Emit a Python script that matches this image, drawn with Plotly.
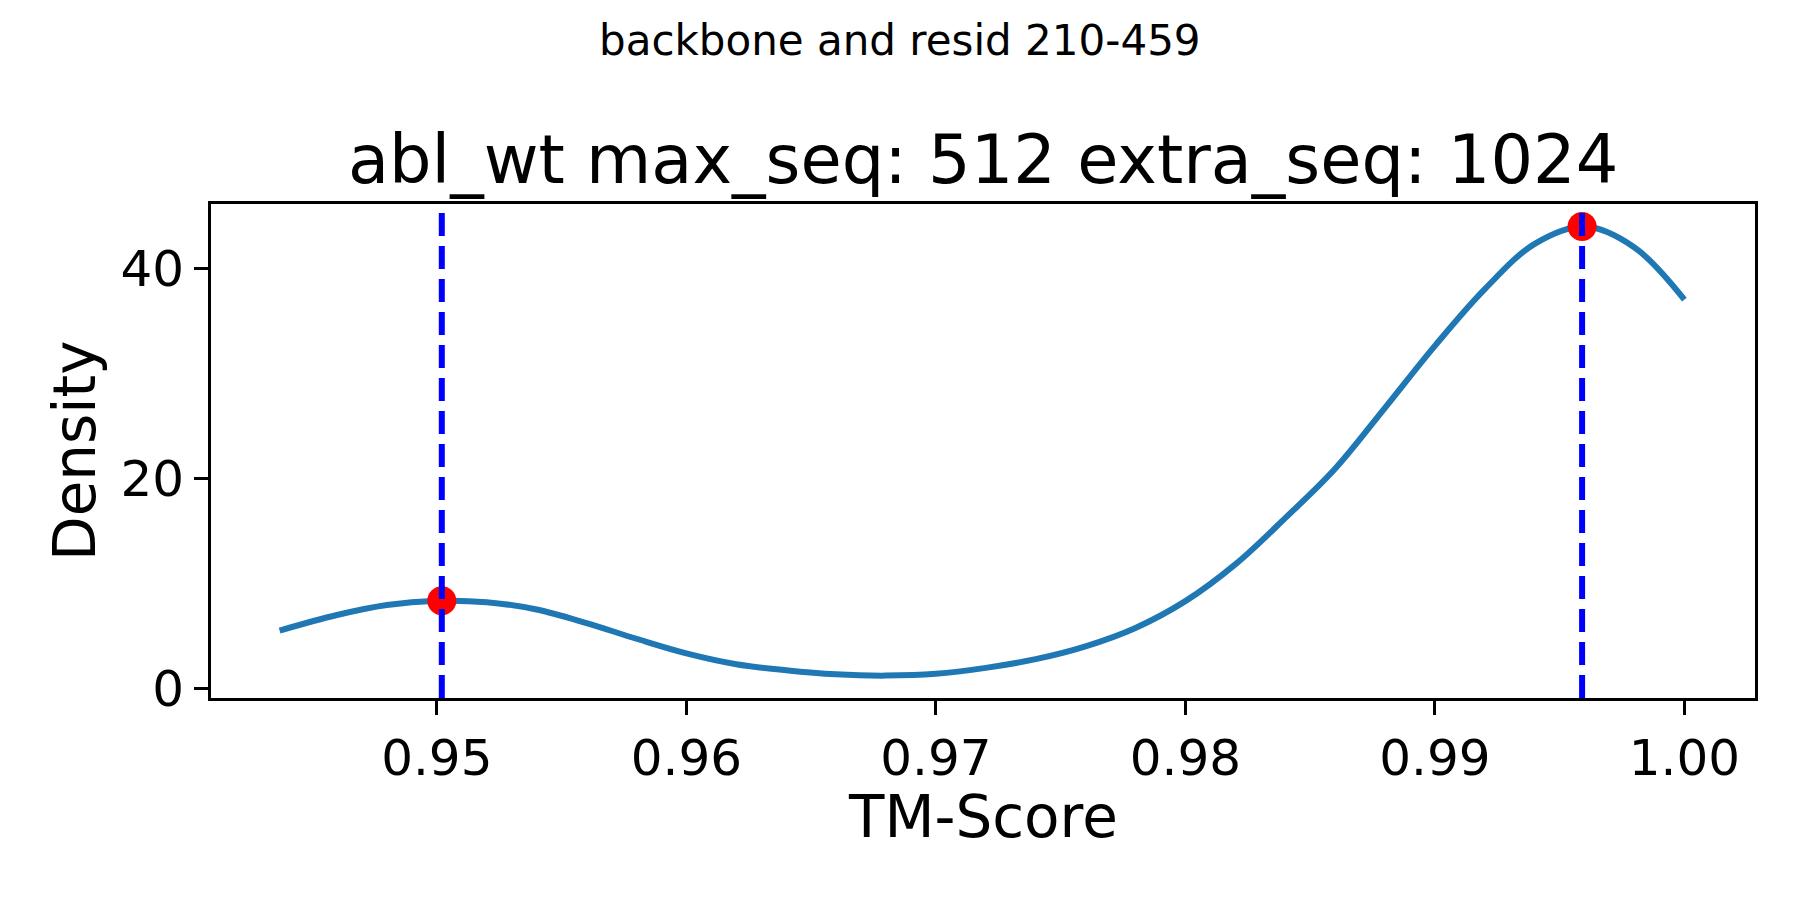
import plotly.graph_objects as go

# ---- data ----
tm_score = [0.9437, 0.9460, 0.9480, 0.9500, 0.9520, 0.9540, 0.9560, 0.9580,
            0.9600, 0.9620, 0.9640, 0.9660, 0.9680, 0.9700, 0.9720, 0.9740,
            0.9760, 0.9780, 0.9800, 0.9820, 0.9840, 0.9860, 0.9880, 0.9900,
            0.9920, 0.9940, 0.9960, 0.9980, 1.0000]
density = [5.5, 6.98, 7.93, 8.33, 8.2, 7.5, 6.21, 4.72,
           3.33, 2.30, 1.72, 1.33, 1.21, 1.38, 1.95, 2.78,
           4.0, 5.75, 8.3, 11.8, 16.2, 20.9, 26.7, 32.6,
           38.0, 42.3, 43.95, 41.96, 37.0]
peak_x = [0.9502, 0.9959]
peak_y = [8.34, 43.96]

x_ticks = [0.95, 0.96, 0.97, 0.98, 0.99, 1.00]
x_tick_labels = ["0.95", "0.96", "0.97", "0.98", "0.99", "1.00"]
y_ticks = [0, 20, 40]
y_tick_labels = ["0", "20", "40"]

suptitle = "backbone and resid 210-459"
title = "abl_wt max_seq: 512 extra_seq: 1024"
x_label = "TM-Score"
y_label = "Density"

FONT = "DejaVu Sans"

fig = go.Figure()

fig.add_trace(go.Scatter(
    x=tm_score, y=density, mode="lines",
    line=dict(color="#1f77b4", width=6, shape="spline", smoothing=1.0),
    showlegend=False, hoverinfo="skip",
))

for px in peak_x:
    fig.add_vline(x=px, line=dict(color="#0000ff", width=6, dash="23px,10px"))

fig.add_trace(go.Scatter(
    x=peak_x, y=peak_y, mode="markers",
    marker=dict(color="#ff0000", size=29, line=dict(width=0)),
    showlegend=False,
))

axis_common = dict(
    showgrid=False, zeroline=False, showline=True, linecolor="black",
    linewidth=3, mirror=True, ticks="outside", ticklen=14, tickwidth=3,
    tickcolor="black", tickfont=dict(family=FONT, size=50, color="black"),
)

fig.update_xaxes(range=[0.94095, 1.00283], tickvals=x_ticks,
                 ticktext=x_tick_labels, **axis_common)
fig.update_yaxes(range=[-0.92, 46.1], tickvals=y_ticks,
                 ticktext=y_tick_labels, **axis_common)

L, R, T, B = 211, 45, 204, 202
W, H = 1800, 900
ph = H - T - B
pw = W - L - R

def py(ypix):
    return (H - B - ypix) / ph

def pxx(xpix):
    return (xpix - L) / pw

annotations = [
    dict(text=suptitle, x=pxx(900), y=py(40), xref="paper", yref="paper",
         xanchor="center", yanchor="middle", showarrow=False,
         font=dict(family=FONT, size=42, color="black")),
    dict(text=title, x=0.5, y=py(160), xref="paper", yref="paper",
         xanchor="center", yanchor="middle", showarrow=False,
         font=dict(family=FONT, size=67, color="black")),
    dict(text=x_label, x=0.5, y=py(817), xref="paper", yref="paper",
         xanchor="center", yanchor="middle", showarrow=False,
         font=dict(family=FONT, size=58, color="black")),
    dict(text=y_label, x=pxx(75), y=py(451), xref="paper", yref="paper",
         xanchor="center", yanchor="middle", showarrow=False, textangle=-90,
         font=dict(family=FONT, size=58, color="black")),
]

fig.update_layout(
    width=W, height=H,
    margin=dict(l=L, r=R, t=T, b=B),
    plot_bgcolor="white", paper_bgcolor="white",
    font=dict(family=FONT, color="black"),
    annotations=annotations,
    showlegend=False,
)

fig.write_html(
    "out.html",
    config={"displayModeBar": False},
    post_script="document.body.style.margin='0px';document.body.style.padding='0px';",
)
